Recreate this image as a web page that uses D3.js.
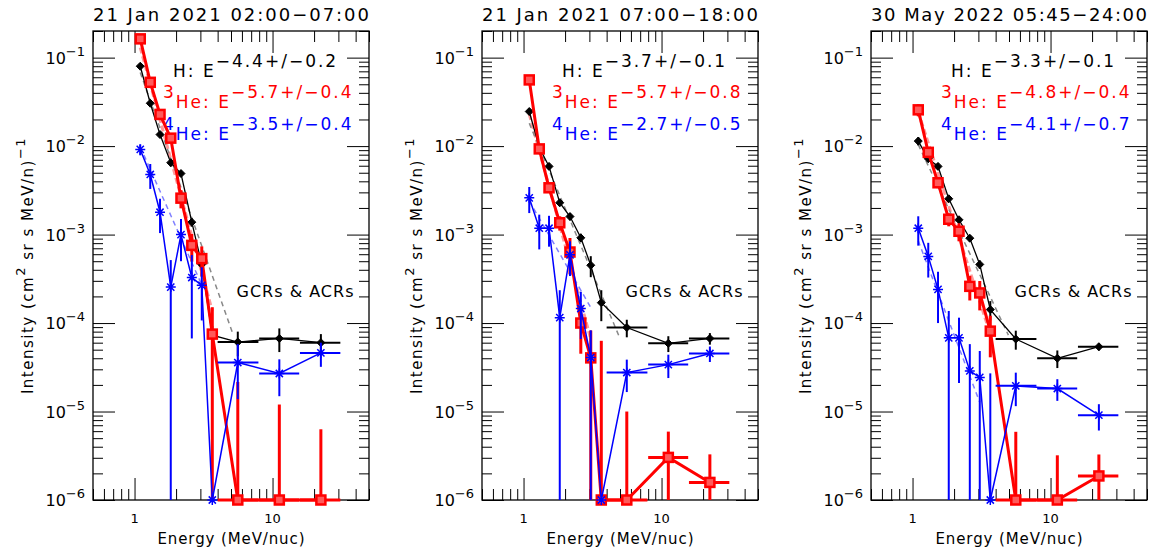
<!DOCTYPE html>
<html>
<head>
<meta charset="utf-8">
<script src="https://cdn.jsdelivr.net/npm/d3@7"></script>
<style>
  body { margin: 0; background: #fff; }
  text { font-family: "DejaVu Sans", sans-serif; }
</style>
</head>
<body>
<svg id="chart"></svg>
<script>
// Chart size
const width = 1159;
const height = 553;

// Panel titles
const titles = ["21 Jan 2021 02:00\u221207:00", "21 Jan 2021 07:00\u221218:00", "30 May 2022 05:45\u221224:00"];

// Energy channels (MeV/nuc), the last three are wide bins
const energy = [1.1, 1.3, 1.53, 1.83, 2.17, 2.6, 3.07, 3.66, 5.6, 11.2, 22.4];
const wideBins = [[4.0, 7.9], [8.0, 15.6], [15.8, 31]];

// Intensities per panel (0 = below the axis floor)
const hFlux = [
    [0.080, 0.0305, 0.0135, 0.0065, 0.0049, 0.00138, 4.6e-4, 7.3e-5, 6.1e-5, 6.7e-5, 6.0e-5],
    [0.0246, 0.0097, 0.0059, 0.00229, 0.0016, 9.2e-4, 4.5e-4, 1.7e-4, 8.9e-5, 5.9e-5, 6.7e-5],
    [0.0114, 0.0072, 0.0059, 0.00254, 0.00147, 9.1e-4, 4.6e-4, 1.42e-4, 6.6e-5, 4.0e-5, 5.4e-5]
];
const hErr = [
    [0.006, 0.002, 0.001, 0.0006, 0.0004, 1.5e-4, 6e-5, 2e-5, 1.9e-5, 2e-5, 1.5e-5],
    [0.002, 0.0008, 0.0005, 0.0002, 1.5e-4, 1.0e-4, 1.2e-4, 6.5e-5, 2e-5, 1.2e-5, 1e-5],
    [0.0012, 0.0006, 0.0005, 0.0002, 1.2e-4, 8e-5, 5e-5, 3.5e-5, 1.6e-5, 9e-6, 5e-6]
];
const he3Flux = [
    [0.163, 0.0526, 0.0228, 0.0123, 0.00258, 7.55e-4, 5.35e-4, 7.5e-5, 0, 0, 0],
    [0.056, 0.0093, 0.00338, 0.00136, 6.35e-4, 1.0e-4, 4.04e-5, 0, 0, 3.03e-6, 1.58e-6],
    [0.0257, 0.0085, 0.00385, 0.00149, 0.00109, 2.6e-4, 2.19e-4, 8.1e-5, 0, 0, 1.87e-6]
];
const he3Err = [
    [0.012, 0.004, 0.002, 0.0012, 0.0006, 2.6e-4, 2.0e-4, 7.6e-5, 2.16e-5, 1.2e-5, 6.3e-6],
    [0.006, 0.001, 4e-4, 2.5e-4, 2.8e-4, 5.5e-5, 4.2e-5, 6.3e-5, 1.0e-5, 2.9e-6, 1.7e-6],
    [0.004, 0.001, 5e-4, 2.5e-4, 2.5e-4, 8e-5, 8e-5, 4e-5, 5.9e-6, 3.2e-6, 1.4e-6]
];
const he4Flux = [
    [9.17e-3, 4.78e-3, 1.79e-3, 2.55e-4, 1.0e-3, 3.27e-4, 2.67e-4, 0, 3.58e-5, 2.69e-5, 4.6e-5],
    [2.6e-3, 1.18e-3, 1.18e-3, 1.15e-4, 5.9e-4, 1.46e-4, 4.08e-5, 0, 2.76e-5, 3.39e-5, 4.53e-5],
    [1.18e-3, 5.67e-4, 2.4e-4, 6.8e-5, 6.8e-5, 2.88e-5, 2.43e-5, 0, 1.95e-5, 1.82e-5, 9.1e-6]
];
const he4Err = [
    [1.3e-3, 1.5e-3, 7.5e-4, 2.6e-4, 5e-4, 2.6e-4, 1.6e-4, 0, 2.2e-5, 1.2e-5, 1.4e-5],
    [8.5e-4, 5e-4, 4.5e-4, 1.2e-4, 2.5e-4, 8e-5, 4.2e-5, 0, 1.1e-5, 1e-5, 9e-6],
    [4.3e-4, 2.4e-4, 1.4e-4, 6.9e-5, 4.7e-5, 2.9e-5, 2.4e-5, 2.7e-5, 8e-6, 5e-6, 3e-6]
];

// Power-law fit lines, as [energy, intensity] end points
const hFit = [[[1.1, 0.068], [5.2, 7.3e-5]], [[1.1, 0.0181], [5.0, 6.7e-5]], [[1.1, 0.0104], [4.95, 7.3e-5]]];
const he3Fit = [[[1.1, 0.13], [3.66, 1.37e-4]], [[1.1, 0.023], [3.07, 6.6e-5]], [[1.1, 0.0243], [3.66, 7.5e-5]]];
const he4Fit = [[[1.1, 9.8e-3], [3.07, 2.7e-4]], [[1.1, 2.4e-3], [3.07, 1.5e-4]], [[1.1, 8.5e-4], [3.07, 1.27e-5]]];

// Fitted spectral indices
const hIndex = ["\u22124.4+/\u22120.2", "\u22123.7+/\u22120.1", "\u22123.3+/\u22120.1"];
const he3Index = ["\u22125.7+/\u22120.4", "\u22125.7+/\u22120.8", "\u22124.8+/\u22120.4"];
const he4Index = ["\u22123.5+/\u22120.4", "\u22122.7+/\u22120.5", "\u22124.1+/\u22120.7"];

// Tick values
const yTicks = [1e-6, 1e-5, 1e-4, 1e-3, 1e-2, 1e-1];
const xTicks = [1, 10];

// Layout
const panelLeft = [93, 482, 871];
const panelW = 276;
const plotTop = 31, plotBottom = 500;
const yFloor = 1e-6, yCeil = 0.2;

const svg = d3.select("#chart")
    .attr("width", width)
    .attr("height", height);

// Minor tick values
const xMinor = [];
[0.1, 1, 10].forEach(d => d3.range(2, 10).forEach(k => {
    const v = k * d;
    if (v >= 0.5 && v <= 50) xMinor.push(v);
}));
const yMinor = [];
d3.range(-6, 0).forEach(p => d3.range(2, 10).forEach(k => {
    const v = k * Math.pow(10, p);
    if (v <= yCeil) yMinor.push(v);
}));

// Marker shapes
const diamond = "M0,-4L4,0L0,4L-4,0Z";
const asterisk = "M-5,0H5M0,-5V5M-3.6,-3.6L3.6,3.6M-3.6,3.6L3.6,-3.6";

panelLeft.forEach((L, i) => {
    const g = svg.append("g");

    const x = d3.scaleLog().domain([0.5, 50]).range([L, L + panelW]);
    const y = d3.scaleLog().domain([yFloor, yCeil]).range([plotBottom, plotTop]);
    const fy = v => y(Math.min(Math.max(v, yFloor), yCeil));

    // Axes: ticks only, pointing inwards on all four sides
    const addTicks = (axis, tr) => {
        const a = g.append("g").attr("transform", tr).call(axis);
        a.select(".domain").remove();
        a.selectAll("line").attr("stroke", "#000").attr("stroke-width", 1);
    };
    addTicks(d3.axisBottom(x).tickValues(xTicks).tickSize(-22).tickFormat(""), `translate(0,${plotBottom})`);
    addTicks(d3.axisBottom(x).tickValues(xMinor).tickSize(-11).tickFormat(""), `translate(0,${plotBottom})`);
    addTicks(d3.axisTop(x).tickValues(xTicks).tickSize(-22).tickFormat(""), `translate(0,${plotTop})`);
    addTicks(d3.axisTop(x).tickValues(xMinor).tickSize(-11).tickFormat(""), `translate(0,${plotTop})`);
    addTicks(d3.axisLeft(y).tickValues(yTicks).tickSize(-22).tickFormat(""), `translate(${L},0)`);
    addTicks(d3.axisLeft(y).tickValues(yMinor).tickSize(-10).tickFormat(""), `translate(${L},0)`);
    addTicks(d3.axisRight(y).tickValues(yTicks).tickSize(-22).tickFormat(""), `translate(${L + panelW},0)`);
    addTicks(d3.axisRight(y).tickValues(yMinor).tickSize(-10).tickFormat(""), `translate(${L + panelW},0)`);

    g.append("rect")
        .attr("x", L).attr("y", plotTop)
        .attr("width", panelW).attr("height", plotBottom - plotTop)
        .attr("fill", "none").attr("stroke", "#000").attr("stroke-width", 1.3);

    // Y tick labels 10^n
    yTicks.forEach(v => {
        const t = g.append("text")
            .attr("x", L - 8).attr("y", y(v) + 6)
            .attr("text-anchor", "end")
            .style("font-size", "16px");
        t.append("tspan").text("10");
        t.append("tspan").attr("dy", -8).style("font-size", "13px")
            .text("\u2212" + Math.round(-Math.log10(v)));
    });

    // X tick labels
    g.selectAll(".xlab").data(xTicks).enter().append("text")
        .attr("x", d => x(d)).attr("y", 523)
        .attr("text-anchor", "middle")
        .style("font-size", "13px")
        .text(d => d);

    // Title
    g.append("text")
        .attr("x", L).attr("y", 21)
        .attr("textLength", panelW).attr("lengthAdjust", "spacing")
        .style("font-size", "18px")
        .text(titles[i]);

    // Axis titles
    g.append("text")
        .attr("x", L + 138).attr("y", 544)
        .attr("text-anchor", "middle")
        .attr("textLength", 147).attr("lengthAdjust", "spacing")
        .style("font-size", "15px")
        .text("Energy (MeV/nuc)");

    const yl = g.append("text")
        .attr("transform", `translate(${L - 60},265.5) rotate(-90)`)
        .attr("text-anchor", "middle")
        .style("font-size", "15px")
        .style("letter-spacing", "1.5px");
    yl.append("tspan").text("Intensity (cm");
    yl.append("tspan").attr("dy", -8).style("font-size", "13px").text("2");
    yl.append("tspan").attr("dy", 8).text(" sr s MeV/n)");
    yl.append("tspan").attr("dy", -8).style("font-size", "13px").text("\u22121");

    g.append("text")
        .attr("x", L + 143.5).attr("y", 296.7)
        .attr("textLength", 117).attr("lengthAdjust", "spacing")
        .style("font-size", "16px")
        .text("GCRs & ACRs");

    // Fit annotations
    const ann = (xOff, yBase, color, pre, base, sup) => {
        const t = g.append("text")
            .attr("x", L + xOff).attr("y", yBase)
            .attr("fill", color)
            .style("font-size", "17px")
            .style("letter-spacing", "2px");
        if (pre) {
            t.append("tspan").attr("dy", -10.5).text(pre);
            t.append("tspan").attr("dy", 10.5).text(base);
        } else {
            t.append("tspan").text(base);
        }
        t.append("tspan").attr("dy", -10.5).text(sup);
    };
    ann(80, 77.3, "#000", null, "H: E", hIndex[i]);
    ann(70, 108.3, "#ff0000", "3", "He: E", he3Index[i]);
    ann(70, 140, "#0000ff", "4", "He: E", he4Index[i]);

    // Fit lines
    const fitLine = d3.line().x(d => x(d[0])).y(d => fy(d[1]));
    g.append("path").datum(he3Fit[i]).attr("d", fitLine)
        .attr("fill", "none").attr("stroke", "#ff9999").attr("stroke-width", 3)
        .attr("stroke-dasharray", "6,3");
    g.append("path").datum(hFit[i]).attr("d", fitLine)
        .attr("fill", "none").attr("stroke", "#888").attr("stroke-width", 1.5)
        .attr("stroke-dasharray", "5,4");
    g.append("path").datum(he4Fit[i]).attr("d", fitLine)
        .attr("fill", "none").attr("stroke", "#8080ff").attr("stroke-width", 1.5)
        .attr("stroke-dasharray", "5,4");

    // Data series
    const series = [
        { flux: hFlux[i], err: hErr[i], color: "#000", lw: 1.3, ew: 2 },
        { flux: he3Flux[i], err: he3Err[i], color: "#ff0000", lw: 3, ew: 3 },
        { flux: he4Flux[i], err: he4Err[i], color: "#0000ff", lw: 1.5, ew: 2 }
    ];
    const line = d3.line().x(d => x(d.e)).y(d => fy(d.v));

    series.forEach((s, k) => {
        const pts = energy.map((e, j) => ({ e: e, v: s.flux[j], s: s.err[j], j: j }));
        const sg = g.append("g");

        sg.append("path").datum(pts).attr("d", line)
            .attr("fill", "none").attr("stroke", s.color).attr("stroke-width", s.lw);

        // Vertical error bars
        sg.selectAll(".ev").data(pts.filter(d => d.s > 0)).enter().append("line")
            .attr("x1", d => x(d.e)).attr("x2", d => x(d.e))
            .attr("y1", d => fy(d.v + d.s))
            .attr("y2", d => fy(d.v - d.s))
            .attr("stroke", s.color).attr("stroke-width", s.ew);

        // Horizontal bars for the wide bins
        const wide = pts.slice(energy.length - wideBins.length);
        sg.selectAll(".eh").data(wide).enter().append("line")
            .attr("x1", (d, n) => x(wideBins[n][0])).attr("x2", (d, n) => x(wideBins[n][1]))
            .attr("y1", d => fy(d.v)).attr("y2", d => fy(d.v))
            .attr("stroke", s.color).attr("stroke-width", s.ew);

        // Markers
        const m = sg.selectAll(".m").data(pts).enter().append("g")
            .attr("transform", d => `translate(${x(d.e)},${fy(d.v)})`);
        if (k === 0) {
            m.append("path").attr("d", diamond).attr("fill", "#000")
                .attr("stroke", "#000").attr("stroke-width", 1);
        } else if (k === 1) {
            m.append("rect").attr("x", -4.5).attr("y", -4.5).attr("width", 9).attr("height", 9)
                .attr("fill", "#ff5a5a").attr("stroke", "#ff0000").attr("stroke-width", 2.5);
        } else {
            m.append("path").attr("d", asterisk).attr("fill", "none")
                .attr("stroke", "#0000ff").attr("stroke-width", 1.5);
        }
    });
});
</script>
</body>
</html>
